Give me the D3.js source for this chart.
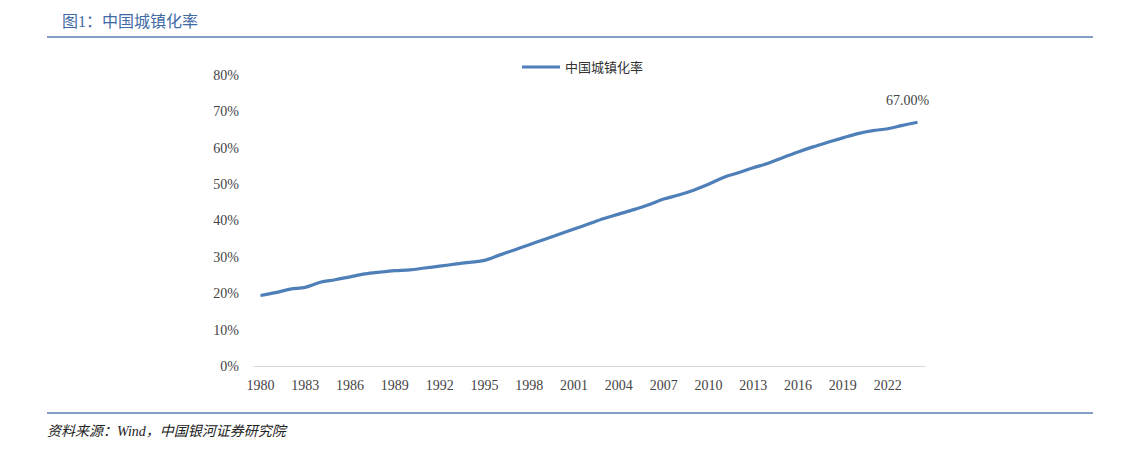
<!DOCTYPE html>
<html><head><meta charset="utf-8">
<script src="https://cdn.jsdelivr.net/npm/d3@7"></script>
<style>
body{margin:0;background:#fff;}
text{font-family:"Liberation Serif","Noto Sans CJK SC",serif;}
</style></head>
<body><svg id="chart" width="1128" height="449"></svg>
<script>
// ── data ──
const years = d3.range(1980, 2025);
const rate = [19.39,20.16,21.13,21.62,23.01,23.71,24.52,25.32,25.81,26.21,26.41,26.94,27.46,27.99,28.51,29.04,
  30.48,31.91,33.35,34.78,36.22,37.66,39.09,40.53,41.76,42.99,44.34,45.89,46.99,48.34,49.95,51.83,53.10,54.49,
  55.75,57.33,58.84,60.24,61.50,62.71,63.89,64.72,65.22,66.16,67.00];
const yTicks = [0,10,20,30,40,50,60,70,80];

const svg = d3.select("#chart");
const blue = "#4f7fb8";

// header & footer
svg.append("text").attr("x",62).attr("y",27).attr("fill","#3f6aa6").attr("font-size",16)
  .attr("font-family","Noto Sans CJK SC").text("图1：中国城镇化率");
svg.append("line").attr("x1",47).attr("x2",1093).attr("y1",37).attr("y2",37).attr("stroke","#5a7fb0").attr("stroke-width",1.5);
svg.append("line").attr("x1",47).attr("x2",1093).attr("y1",413).attr("y2",413).attr("stroke","#5a7fb0").attr("stroke-width",1.5);
svg.append("text").attr("x",47).attr("y",436).attr("fill","#222").attr("font-size",14)
  .attr("font-style","italic").text("资料来源：Wind，中国银河证券研究院");

// scales
const x = d3.scaleBand().domain(years).range([253,925]);
const y = d3.scaleLinear().domain([0,80]).range([366,75]);

// axes
const ya = svg.append("g").attr("transform","translate(253,0)")
  .call(d3.axisLeft(y).tickValues(yTicks).tickSize(0).tickPadding(14).tickFormat(d=>d+"%"));
ya.select(".domain").remove();
ya.selectAll("text").attr("font-size",14).attr("fill","#444");

const xa = svg.append("g").attr("transform","translate(0,366)")
  .call(d3.axisBottom(x).tickValues(years.filter(d=>(d-1980)%3===0)).tickSize(0).tickPadding(14));
xa.select(".domain").attr("stroke","#d9d9d9");
xa.selectAll("text").attr("font-size",14).attr("fill","#444");

// line
const cx = d => x(d) + x.bandwidth()/2;
svg.append("path").datum(years.map((d,i)=>[d,rate[i]]))
  .attr("fill","none").attr("stroke",blue).attr("stroke-width",3.2).attr("stroke-linejoin","round")
  .attr("d", d3.line().x(p=>cx(p[0])).y(p=>y(p[1])).curve(d3.curveMonotoneX));

// end label
svg.append("text").attr("x",cx(2024)-10).attr("y",y(rate[rate.length-1])-17).attr("text-anchor","middle")
  .attr("font-size",14).attr("fill","#444").text(rate[rate.length-1].toFixed(2)+"%");

// legend
svg.append("line").attr("x1",522).attr("x2",560).attr("y1",67).attr("y2",67).attr("stroke",blue).attr("stroke-width",3.2);
svg.append("text").attr("x",565).attr("y",72).attr("font-size",13).attr("fill","#333")
  .attr("font-family","Noto Sans CJK SC").text("中国城镇化率");
</script></body></html>
